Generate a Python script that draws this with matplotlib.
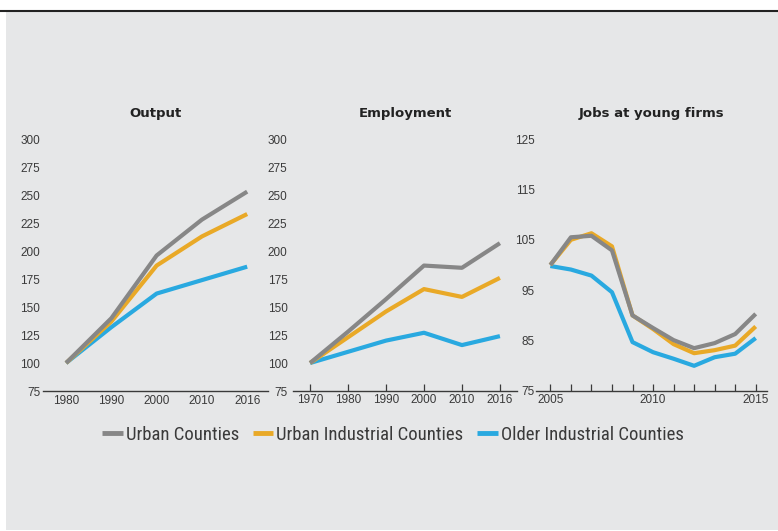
import matplotlib
matplotlib.use("Agg")
import matplotlib.pyplot as plt
from matplotlib import font_manager
from matplotlib.lines import Line2D
from matplotlib.patches import Rectangle

# data (index, first year = 100)
output_years = ["1980", "1990", "2000", "2010", "2016"]
output_urban = [100, 140, 196, 228, 253]
output_urban_ind = [100, 137, 187, 213, 233]
output_older_ind = [100, 132, 162, 174, 186]

emp_years = ["1970", "1980", "1990", "2000", "2010", "2016"]
emp_urban = [100, 128, 157, 187, 185, 207]
emp_urban_ind = [100, 123, 146, 166, 159, 176]
emp_older_ind = [100, 110, 120, 127, 116, 124]

young_years = [2005, 2006, 2007, 2008, 2009, 2010, 2011, 2012, 2013, 2014, 2015]
young_urban = [100, 105.5, 105.8, 102.9, 90.0, 87.5, 85.1, 83.5, 84.5, 86.3, 90.3]
young_urban_ind = [100, 105.0, 106.3, 103.7, 90.0, 87.3, 84.3, 82.5, 83.1, 84.0, 87.8]
young_older_ind = [99.8, 99.1, 97.9, 94.6, 84.7, 82.7, 81.4, 80.0, 81.7, 82.4, 85.5]

series_names = ["Urban Counties", "Urban Industrial Counties", "Older Industrial Counties"]
colors = ["#878787", "#E9A927", "#29A9E0"]

W, H = 778, 531
BG = "#E6E7E8"
TXT = "#3a3a3a"


def pick_font(names):
    have = {f.name for f in font_manager.fontManager.ttflist}
    for n in names:
        if n in have:
            return n
    return "DejaVu Sans"


tick_font = pick_font(["Liberation Sans", "DejaVu Sans"])
legend_font = pick_font(["Liberation Sans Narrow", "Roboto Condensed", "Roboto", "DejaVu Sans"])

fig = plt.figure(figsize=(W / 100, H / 100), dpi=100)
fig.patch.set_facecolor("white")
fig.patches.append(Rectangle((6 / W, 1 - 530 / H), (W - 6) / W, 518 / H,
                             transform=fig.transFigure, facecolor=BG, edgecolor="none", zorder=-5))
fig.add_artist(Line2D([0, 1], [1 - 11 / H, 1 - 11 / H], transform=fig.transFigure,
                      color="#222222", lw=1.5, zorder=-4))


def make_ax(x0, x1, y0=139, y1=391):
    ax = fig.add_axes([x0 / W, 1 - y1 / H, (x1 - x0) / W, (y1 - y0) / H])
    ax.set_facecolor("none")
    for s in ["top", "right", "left"]:
        ax.spines[s].set_visible(False)
    ax.spines["bottom"].set_color(TXT)
    ax.spines["bottom"].set_linewidth(1.0)
    ax.tick_params(axis="y", length=0, pad=3, labelsize=8.5, labelcolor=TXT)
    ax.tick_params(axis="x", labelsize=8.5, labelcolor=TXT, color=TXT, direction="in",
                   length=5, width=0.9, pad=2)
    return ax


def style_labels(ax):
    for lab in ax.get_xticklabels() + ax.get_yticklabels():
        lab.set_fontfamily(tick_font)


def title(ax, text):
    ax.text(0.5, (391 - 113) / 252, text, transform=ax.transAxes, ha="center", va="center",
            fontsize=9.5, fontweight="bold", color="#222222", family="DejaVu Sans")


# Output
ax1 = make_ax(43, 268)
idx = range(len(output_years))
for vals, c in zip([output_urban, output_urban_ind, output_older_ind][::-1], colors[::-1]):
    ax1.plot(idx, vals, color=c, lw=3.0, solid_capstyle="butt")
ax1.set_xticks(list(idx))
ax1.set_xticklabels(output_years)
ax1.tick_params(axis="x", length=0, pad=3)
ax1.set_xlim(-0.51, 4.46)
ax1.set_ylim(75, 300)
ax1.set_yticks(range(75, 301, 25))
ax1.tick_params(axis="y", pad=2)
style_labels(ax1)
title(ax1, "Output")

# Employment
ax2 = make_ax(293, 517)
idx = range(len(emp_years))
for vals, c in zip([emp_urban, emp_urban_ind, emp_older_ind][::-1], colors[::-1]):
    ax2.plot(idx, vals, color=c, lw=3.0, solid_capstyle="butt")
ax2.set_xticks(list(idx))
ax2.set_xticklabels(emp_years)
ax2.set_xlim(-0.45, 5.45)
ax2.set_ylim(75, 300)
ax2.set_yticks(range(75, 301, 25))
ax2.tick_params(axis="y", pad=4)
style_labels(ax2)
title(ax2, "Employment")

# Jobs at young firms
ax3 = make_ax(536, 767)
for vals, c in zip([young_older_ind, young_urban_ind, young_urban], colors[::-1]):
    ax3.plot(young_years, vals, color=c, lw=3.0, solid_capstyle="butt")
ax3.set_xticks([2005, 2010, 2015])
ax3.set_xticks(young_years, minor=True)
ax3.tick_params(axis="x", which="minor", direction="in", length=5, width=0.9, color=TXT)
ax3.set_xlim(2004.3, 2015.55)
ax3.set_ylim(75, 125)
ax3.set_yticks(range(75, 126, 10))
ax3.tick_params(axis="y", pad=1)
style_labels(ax3)
title(ax3, "Jobs at young firms")

handles = [Line2D([], [], color=c, lw=3.5, solid_capstyle="butt") for c in colors]
fig.legend(handles, series_names, loc="center", bbox_to_anchor=(393 / W, 1 - 435 / H),
           ncol=3, frameon=False, handlelength=1.07, handletextpad=0.17, columnspacing=0.75,
           prop={"family": legend_font, "size": 13.5}, labelcolor=TXT)

fig.savefig("out.png", dpi=100, facecolor="white")
